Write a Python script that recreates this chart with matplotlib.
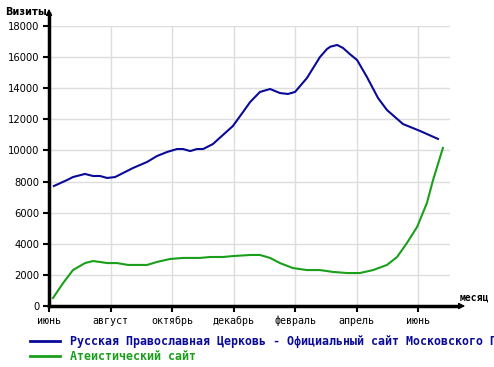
import matplotlib
matplotlib.use("Agg")
import matplotlib.pyplot as plt

W, H = 494, 367
DPI = 100

# x positions in months since June (0 = июнь)
blue_x = [0.16, 0.59, 0.78, 1.17, 1.43, 1.66, 1.89, 2.15, 2.41, 2.73, 3.19, 3.51, 3.84, 4.16, 4.36,
          4.59, 4.81, 5.01, 5.33, 5.66, 5.98, 6.31, 6.54, 6.86, 7.19, 7.51, 7.77, 8.0, 8.39, 8.81,
          9.04, 9.15, 9.37, 9.56, 9.78, 10.02, 10.34, 10.7, 10.99, 11.51, 12.07, 12.65]
blue_y = [7714, 8100, 8290, 8490, 8357, 8357, 8230, 8290, 8550, 8870, 9260, 9640, 9900, 10090, 10090,
          9960, 10090, 10090, 10410, 11000, 11570, 12470, 13110, 13760, 13950, 13690, 13630, 13760, 14660, 16000,
          16520, 16670, 16780, 16590, 16200, 15810, 14720, 13370, 12600, 11700, 11250, 10740]

green_x = [0.13, 0.46, 0.78, 1.17, 1.43, 1.66, 1.89, 2.21, 2.57, 3.19, 3.51, 3.93, 4.36, 4.91, 5.24,
           5.66, 5.98, 6.54, 6.86, 7.19, 7.51, 7.93, 8.39, 8.81, 9.24, 9.69, 10.11, 10.54, 10.99, 11.32,
           11.64, 11.97, 12.29, 12.49, 12.81]
green_y = [514, 1480, 2310, 2760, 2890, 2830, 2760, 2760, 2640, 2640, 2830, 3020, 3090, 3090, 3150,
           3150, 3210, 3280, 3280, 3090, 2760, 2440, 2310, 2310, 2190, 2120, 2120, 2310, 2640, 3150,
           4050, 5080, 6620, 8100, 10160]

month_pos = [0, 2, 4, 6, 8, 10, 12]
month_labels = ["июнь", "август", "октябрь", "декабрь", "февраль", "апрель", "июнь"]
y_ticks = [0, 2000, 4000, 6000, 8000, 10000, 12000, 14000, 16000, 18000]

series_names = ["Русская Православная Церковь - Официальный сайт Московского Патриархата",
                "Атеистический сайт"]
blue = "#0a0a99"
green = "#1a9f1a"

fig = plt.figure(figsize=(W / DPI, H / DPI), dpi=DPI)
x0, x1 = 49, 450
y0, y1 = 306, 26
ax = fig.add_axes([x0 / W, 1 - y0 / H, (x1 - x0) / W, (y0 - y1) / H])
px_per_month = 30.75
ax.set_xlim(0, (x1 - x0) / px_per_month)
ax.set_ylim(0, 18000)

ax.set_xticks(month_pos)
ax.set_xticklabels(month_labels, family="DejaVu Sans Mono", fontsize=7.2)
ax.set_yticks(y_ticks)
ax.set_yticklabels([str(v) for v in y_ticks], family="DejaVu Sans", fontsize=7.2)
ax.tick_params(axis="both", direction="out", length=4, width=1.5, color="black", pad=3)
ax.grid(True, color="#dddddd", linewidth=1)
ax.set_axisbelow(True)
for s in ax.spines.values():
    s.set_visible(False)

ax.plot(blue_x, blue_y, color=blue, linewidth=1.5, solid_joinstyle="round")
ax.plot(green_x, green_y, color=green, linewidth=1.5, solid_joinstyle="round")

def fx(px):
    return px / W

def fy(py):
    return 1 - py / H

fig.add_artist(plt.Line2D([fx(49), fx(49)], [fy(306), fy(14)], color="black", linewidth=2.5))
fig.add_artist(plt.Line2D([fx(49), fx(458)], [fy(306), fy(306)], color="black", linewidth=2.5))
ax.annotate("", xy=(fx(49), fy(6)), xytext=(fx(49), fy(18)), xycoords="figure fraction",
            arrowprops=dict(arrowstyle="-|>", color="black", lw=1, mutation_scale=9))
ax.annotate("", xy=(fx(468), fy(306)), xytext=(fx(455), fy(306)), xycoords="figure fraction",
            arrowprops=dict(arrowstyle="-|>", color="black", lw=1, mutation_scale=9))

fig.text(fx(5), fy(12), "Визиты", fontsize=7, fontweight="bold", va="center", ha="left")
fig.text(fx(460), fy(298), "месяц", fontsize=7, fontweight="bold", family="DejaVu Sans Mono",
         va="center", ha="left")

for i, (name, col) in enumerate(zip(series_names, [blue, green])):
    yy = fy(341 + i * 15)
    fig.add_artist(plt.Line2D([fx(30), fx(60)], [yy, yy], color=col, linewidth=2))
    fig.text(fx(70), yy, name, color=col, fontsize=8.36, family="DejaVu Sans Mono",
             fontweight="bold", va="center", ha="left")

fig.savefig("out.png", dpi=DPI)
